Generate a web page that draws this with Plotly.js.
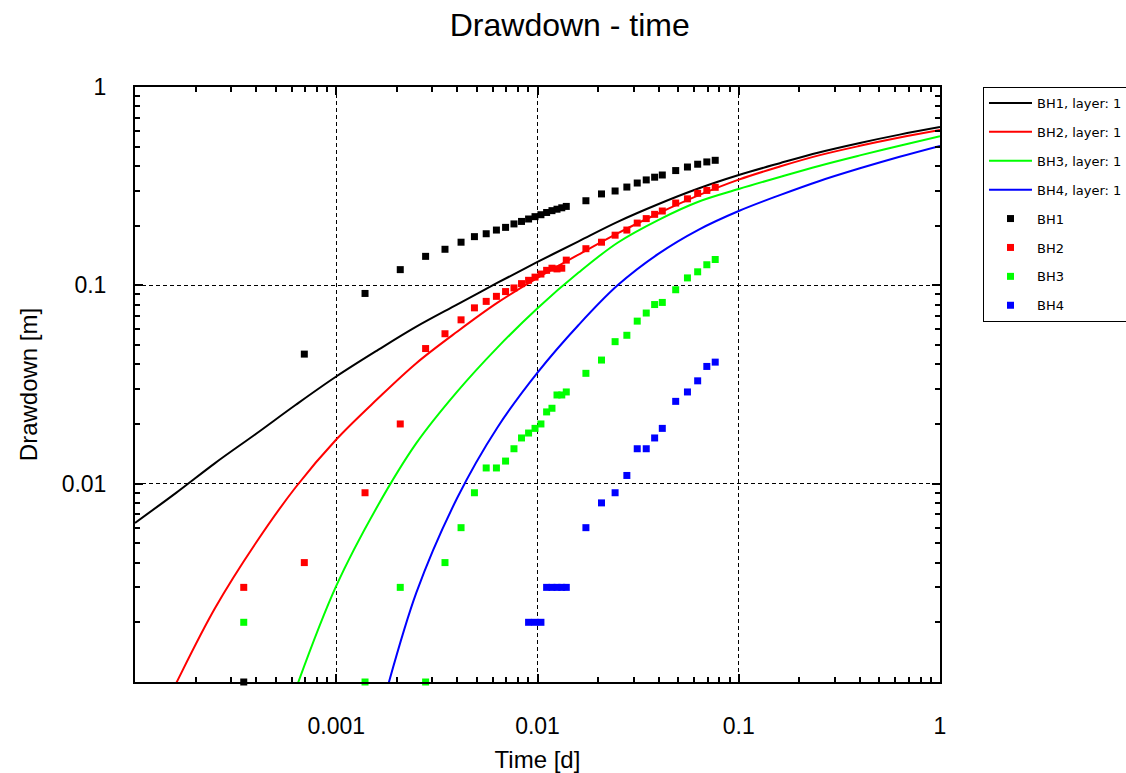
<!DOCTYPE html>
<html>
<head>
<meta charset="utf-8">
<script src="https://cdn.plot.ly/plotly-3.0.1.min.js"></script>
<style>
html,body{margin:0;padding:0;background:#fff;}
#chart{width:1126px;height:773px;}
</style>
</head>
<body>
<div id="chart"></div>
<script>
// Model curves (time in days, drawdown in m)
const modelTime = [0.0001, 0.00016, 0.00025, 0.0004, 0.00063, 0.001, 0.0016, 0.0025, 0.004, 0.0063, 0.01, 0.016, 0.025, 0.04, 0.063, 0.1, 0.16, 0.25, 0.4, 0.63, 1];
const modelBH1 = [0.00634, 0.00899, 0.0127, 0.01786, 0.0250, 0.0347, 0.0470, 0.0619, 0.0802, 0.1028, 0.1312, 0.1667, 0.2089, 0.2570, 0.3076, 0.3597, 0.4130, 0.4677, 0.5224, 0.5754, 0.6281];
const modelBH2 = [0.000366, 0.000984, 0.00236, 0.00505, 0.00962, 0.0167, 0.0267, 0.0405, 0.0585, 0.0815, 0.109, 0.143, 0.183, 0.231, 0.284, 0.341, 0.397, 0.452, 0.505, 0.556, 0.607];
const modelBH3 = [null, null, null, 0.000232, 0.000923, 0.00305, 0.00767, 0.0160, 0.0292, 0.0484, 0.0767, 0.116, 0.164, 0.214, 0.264, 0.306, 0.352, 0.400, 0.452, 0.506, 0.564];
const modelBH4 = [null, null, null, null, null, 0.000107, 0.000617, 0.00282, 0.00851, 0.0191, 0.0363, 0.0631, 0.100, 0.1445, 0.1905, 0.237, 0.285, 0.335, 0.389, 0.445, 0.505];

// Observations
const obsTime = [0.000347, 0.000694, 0.00139, 0.00208, 0.00278, 0.00347, 0.00417, 0.00486, 0.00556, 0.00625, 0.00694, 0.00764, 0.00833, 0.00903, 0.00972, 0.0104, 0.0111, 0.0118, 0.0125, 0.0132, 0.0139, 0.0174, 0.0208, 0.0243, 0.0278, 0.0313, 0.0347, 0.0382, 0.0417, 0.0486, 0.0556, 0.0625, 0.0694, 0.0764];
const obsBH1 = [0.001, 0.045, 0.091, 0.120, 0.140, 0.152, 0.165, 0.176, 0.182, 0.190, 0.196, 0.204, 0.210, 0.216, 0.222, 0.227, 0.233, 0.238, 0.242, 0.246, 0.250, 0.267, 0.289, 0.299, 0.313, 0.328, 0.340, 0.351, 0.360, 0.379, 0.395, 0.408, 0.419, 0.427];
const obsBH2 = [0.003, 0.004, 0.009, 0.020, 0.048, 0.057, 0.067, 0.077, 0.083, 0.088, 0.093, 0.097, 0.102, 0.106, 0.110, 0.114, 0.119, 0.122, 0.121, 0.122, 0.134, 0.153, 0.165, 0.179, 0.190, 0.206, 0.217, 0.228, 0.237, 0.260, 0.273, 0.291, 0.301, 0.312];
const obsBH3 = [0.002, null, 0.001, 0.003, 0.001, 0.004, 0.006, 0.009, 0.012, 0.012, 0.013, 0.015, 0.017, 0.018, 0.019, 0.020, 0.023, 0.024, 0.028, 0.028, 0.029, 0.036, 0.042, 0.052, 0.056, 0.066, 0.0725, 0.080, 0.082, 0.095, 0.109, 0.117, 0.127, 0.135];
const obsBH4 = [null, null, null, null, null, null, null, null, null, null, null, null, null, 0.002, 0.002, 0.002, 0.003, 0.003, 0.003, 0.003, 0.003, 0.006, 0.008, 0.009, 0.011, 0.015, 0.015, 0.017, 0.019, 0.026, 0.029, 0.033, 0.039, 0.041];

const lineNames = ["BH1, layer: 1", "BH2, layer: 1", "BH3, layer: 1", "BH4, layer: 1"];
const obsNames = ["BH1", "BH2", "BH3", "BH4"];
const colors = ["#000000", "#ff0000", "#00ff00", "#0000ff"];

const xTickVals = [0.0001, 0.001, 0.01, 0.1, 1];
const xTickText = ["", "0.001", "0.01", "0.1", "1"];
const yTickVals = [0.001, 0.01, 0.1, 1];
const yTickText = ["", "0.01", "0.1", "1"];

const models = [modelBH1, modelBH2, modelBH3, modelBH4];
const obs = [obsBH1, obsBH2, obsBH3, obsBH4];

const traces = [];
models.forEach((m, i) => {
  traces.push({
    x: modelTime, y: m, type: 'scatter', mode: 'lines',
    name: lineNames[i], legendgroup: 'l' + i,
    line: {color: colors[i], width: 2, shape: 'spline', smoothing: 1},
    hoverinfo: 'skip'
  });
});
obs.forEach((o, i) => {
  traces.push({
    x: obsTime, y: o, type: 'scatter', mode: 'markers',
    name: obsNames[i], legendgroup: 'm' + i,
    marker: {color: colors[i], symbol: 'square', size: 7, line: {width: 0}},
    cliponaxis: false
  });
});

const fontFam = 'Liberation Sans, Arial, sans-serif';
const axisCommon = {
  type: 'log',
  showline: true, linecolor: '#000', linewidth: 2, mirror: 'allticks',
  ticks: 'inside', ticklen: 8, tickwidth: 2, tickcolor: '#000',
  showgrid: true, gridcolor: '#000', gridwidth: 1, griddash: '4px,3px',
  zeroline: false,
  tickmode: 'array',
  tickfont: {family: fontFam, size: 23, color: '#000'},
  minor: {ticks: 'inside', ticklen: 5, tickwidth: 2, tickcolor: '#000', dtick: 'D1', showgrid: false}
};

const layout = {
  width: 1126, height: 773,
  paper_bgcolor: '#fff', plot_bgcolor: '#fff',
  margin: {l: 135, r: 186, t: 87, b: 91, autoexpand: false},
  title: {
    text: 'Drawdown - time',
    font: {family: fontFam, size: 32, color: '#000'},
    x: 0.506, xref: 'container', xanchor: 'center',
    y: 0.968, yref: 'container', yanchor: 'middle'
  },
  xaxis: Object.assign({}, axisCommon, {
    range: [-4, 0],
    tickvals: xTickVals, ticktext: xTickText,
    ticklabelstandoff: 22,
    title: {text: 'Time [d]', standoff: 17, font: {family: fontFam, size: 24, color: '#000'}},
    automargin: false
  }),
  yaxis: Object.assign({}, axisCommon, {
    range: [-3, 0],
    tickvals: yTickVals, ticktext: yTickText,
    ticklabelstandoff: 22,
    title: {text: 'Drawdown [m]', standoff: 17, font: {family: fontFam, size: 24, color: '#000'}},
    automargin: false
  }),
  showlegend: true,
  legend: {
    x: 1.0534, xanchor: 'left', y: 1.0, yanchor: 'top',
    bordercolor: '#000', borderwidth: 1, bgcolor: '#fff',
    font: {family: 'DejaVu Sans, sans-serif', size: 13, color: '#000'},
    traceorder: 'grouped', tracegroupgap: 9, itemwidth: 43
  }
};

Plotly.newPlot('chart', traces, layout, {displayModeBar: false, staticPlot: true});
</script>
</body>
</html>
